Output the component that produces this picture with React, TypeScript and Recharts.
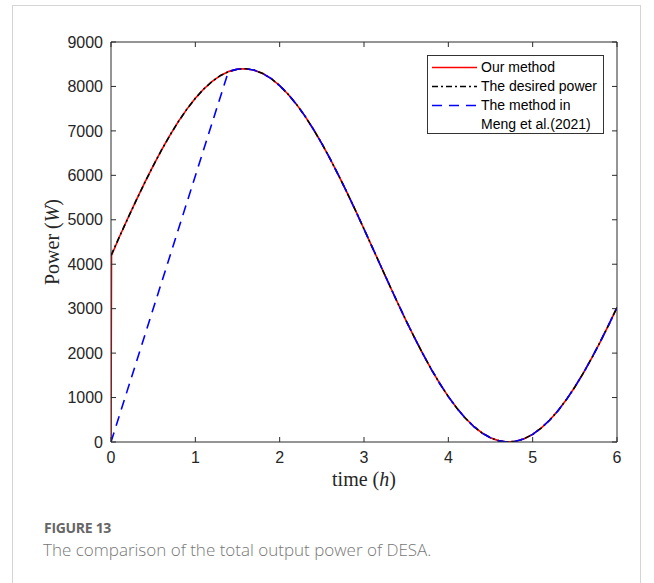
import React from "react";
import { LineChart, Line, XAxis, YAxis } from "recharts";

// time (h) sample points
const timeHours = [
  0, 0.1, 0.2, 0.3, 0.4, 0.5, 0.6, 0.7, 0.8, 0.9,
  1.0, 1.1, 1.2, 1.3, 1.4, 1.5, 1.6, 1.7, 1.8, 1.9,
  2.0, 2.1, 2.2, 2.3, 2.4, 2.5, 2.6, 2.7, 2.8, 2.9,
  3.0, 3.1, 3.2, 3.3, 3.4, 3.5, 3.6, 3.7, 3.8, 3.9,
  4.0, 4.1, 4.2, 4.3, 4.4, 4.5, 4.6, 4.7, 4.8, 4.9,
  5.0, 5.1, 5.2, 5.3, 5.4, 5.5, 5.6, 5.7, 5.8, 5.9,
  6.0,
];

// desired power (W)
const desiredPower = [
  4200, 4619, 5034, 5441, 5836, 6214, 6571, 6906, 7213, 7490,
  7734, 7943, 8115, 8247, 8339, 8389, 8398, 8365, 8290, 8175,
  8019, 7825, 7596, 7332, 7037, 6714, 6365, 5995, 5607, 5205,
  4793, 4375, 3955, 3538, 3127, 2727, 2342, 1975, 1630, 1311,
  1021, 763, 539, 352, 203, 94, 26, 0, 16, 74,
  172, 312, 489, 704, 954, 1237, 1549, 1887, 2249, 2630,
  3026,
];

// Our method: starts at 0, jumps to the desired curve almost instantly
const ourStartTime = [0, 0.006];
const ourStartPower = [0, 4200];
const ourJoinIndex = 1;

// Meng et al. (2021): linear ramp from 0, then follows the desired curve
const mengStartTime = [0, 1.387];
const mengStartPower = [0, 8305];
const mengJoinIndex = 14;

const xTicks = [0, 1, 2, 3, 4, 5, 6];
const yTicks = [0, 1000, 2000, 3000, 4000, 5000, 6000, 7000, 8000, 9000];

const desiredData = timeHours.map((t, i) => ({ t, p: desiredPower[i] }));
const ourData = [
  ...ourStartTime.map((t, i) => ({ t, p: ourStartPower[i] })),
  ...desiredData.slice(ourJoinIndex),
];
const mengData = [
  ...mengStartTime.map((t, i) => ({ t, p: mengStartPower[i] })),
  ...desiredData.slice(mengJoinIndex),
];

const AXIS = "#2b2b2b";
const TICK_LEN = 5;
const BOTTOM_MARGIN = 10;
const LEFT_MARGIN = 8;
const tickFont = "'Liberation Sans', Arial, sans-serif";

const BottomTick = (props: any) => {
  const { x, y, payload } = props;
  const axisY = y - BOTTOM_MARGIN;
  return (
    <g>
      <line x1={x} x2={x} y1={axisY} y2={axisY - TICK_LEN} stroke={AXIS} />
      <text x={x} y={y} dy="0.71em" textAnchor="middle" fontFamily={tickFont} fontSize={16} fill="#262626">
        {payload.value}
      </text>
    </g>
  );
};

const LeftTick = (props: any) => {
  const { x, y, payload } = props;
  const axisX = x + LEFT_MARGIN;
  return (
    <g>
      <line x1={axisX} x2={axisX + TICK_LEN} y1={y} y2={y} stroke={AXIS} />
      <text x={x} y={y} dy="0.355em" textAnchor="end" fontFamily={tickFont} fontSize={16} fill="#262626">
        {payload.value}
      </text>
    </g>
  );
};

const TopTick = (props: any) => {
  const { x, y } = props;
  return <line x1={x} x2={x} y1={y} y2={y + TICK_LEN} stroke={AXIS} />;
};

const RightTick = (props: any) => {
  const { x, y } = props;
  return <line x1={x} x2={x - TICK_LEN} y1={y} y2={y} stroke={AXIS} />;
};

const XLabel = (props: any) => {
  const vb = props.viewBox || {};
  const cx = vb.x + vb.width / 2;
  return (
    <text x={cx} y={486} textAnchor="middle" fontFamily="'Liberation Serif', 'DejaVu Serif', serif" fontSize={20} fill="#262626">
      time (<tspan fontStyle="italic">h</tspan>)
    </text>
  );
};

const YLabel = (props: any) => {
  const vb = props.viewBox || {};
  const cy = vb.y + vb.height / 2;
  return (
    <text x={59} y={cy} transform={`rotate(-90 59 ${cy})`} textAnchor="middle" fontFamily="'Liberation Serif', 'DejaVu Serif', serif" fontSize={20} fill="#262626">
      Power (<tspan fontStyle="italic">W</tspan>)
    </text>
  );
};

const legendItems = [
  { label: ["Our method"], color: "#ff0000", dash: undefined as string | undefined },
  { label: ["The desired power"], color: "#000000", dash: "6 3 2 3" },
  { label: ["The method in", "Meng et al.(2021)"], color: "#0000ff", dash: "10 7" },
];

export default function App() {
  return (
    <div style={{ position: "absolute", left: 0, top: 0, width: 654, height: 583, background: "#fff", overflow: "hidden" }}>
      <div style={{ position: "absolute", left: 12, top: 5, width: 629, height: 600, border: "1px solid #d4d4d4", boxSizing: "border-box" }} />
      <div style={{ position: "absolute", left: 0, top: 0 }}>
        <LineChart width={654} height={500} margin={{ top: 41, right: 36, bottom: 28, left: 51 }}>
          <XAxis
            xAxisId="bottom"
            dataKey="t"
            type="number"
            domain={[0, 6]}
            ticks={xTicks}
            allowDataOverflow
            height={30}
            stroke={AXIS}
            tickLine={false}
            tickSize={0}
            tickMargin={BOTTOM_MARGIN}
            tick={<BottomTick />}
            interval={0}
            label={<XLabel />}
          />
          <XAxis
            xAxisId="top"
            orientation="top"
            dataKey="t"
            type="number"
            domain={[0, 6]}
            ticks={xTicks}
            allowDataOverflow
            height={1}
            stroke={AXIS}
            tickLine={false}
            tickSize={0}
            tickMargin={0}
            interval={0}
            tick={<TopTick />}
          />
          <YAxis
            yAxisId="left"
            type="number"
            domain={[0, 9000]}
            ticks={yTicks}
            allowDataOverflow
            width={60}
            stroke={AXIS}
            tickLine={false}
            tickSize={0}
            tickMargin={LEFT_MARGIN}
            interval={0}
            tick={<LeftTick />}
            label={<YLabel />}
          />
          <YAxis
            yAxisId="right"
            orientation="right"
            type="number"
            domain={[0, 9000]}
            ticks={yTicks}
            allowDataOverflow
            width={1}
            stroke={AXIS}
            tickLine={false}
            tickSize={0}
            tickMargin={0}
            interval={0}
            tick={<RightTick />}
          />
          <Line
            xAxisId="bottom"
            yAxisId="left"
            data={ourData}
            dataKey="p"
            type="linear"
            stroke="#ff0000"
            strokeWidth={1.6}
            dot={false}
            isAnimationActive={false}
          />
          <Line
            xAxisId="bottom"
            yAxisId="left"
            data={desiredData}
            dataKey="p"
            type="linear"
            stroke="#000000"
            strokeWidth={1.6}
            strokeDasharray="6 3 2 3"
            dot={false}
            isAnimationActive={false}
          />
          <Line
            xAxisId="bottom"
            yAxisId="left"
            data={mengData}
            dataKey="p"
            type="linear"
            stroke="#0000ff"
            strokeWidth={1.6}
            strokeDasharray="10 7"
            dot={false}
            isAnimationActive={false}
          />
        </LineChart>
      </div>
      <div
        style={{
          position: "absolute",
          left: 427,
          top: 55,
          width: 177,
          height: 79,
          border: "1px solid #333",
          boxSizing: "border-box",
          background: "#fff",
          fontFamily: "'Liberation Sans', Arial, sans-serif",
          fontSize: 14,
          color: "#000",
        }}
      >
        {legendItems.map((it, i) => (
          <div key={i} style={{ position: "absolute", left: 0, top: 2 + i * 19, width: 175 }}>
            <svg width={50} height={19} style={{ position: "absolute", left: 4, top: 0 }}>
              <line x1={0} y1={9.5} x2={45} y2={9.5} stroke={it.color} strokeWidth={1.6} strokeDasharray={it.dash} />
            </svg>
            {it.label.map((l, j) => (
              <div key={j} style={{ position: "absolute", left: 53, top: j * 19, lineHeight: "19px", whiteSpace: "nowrap" }}>
                {l}
              </div>
            ))}
          </div>
        ))}
      </div>
      <div style={{ position: "absolute", left: 44, top: 521, lineHeight: "14px", fontFamily: "'Open Sans', 'Noto Sans', sans-serif", fontWeight: 700, fontSize: 14, color: "#666", letterSpacing: -0.3, whiteSpace: "nowrap" }}>
        FIGURE 13
      </div>
      <div style={{ position: "absolute", left: 43, top: 541, lineHeight: "17px", fontFamily: "'Open Sans', 'Noto Sans', sans-serif", fontWeight: 300, fontSize: 17, color: "#777", whiteSpace: "nowrap" }}>
        The comparison of the total output power of DESA.
      </div>
    </div>
  );
}
